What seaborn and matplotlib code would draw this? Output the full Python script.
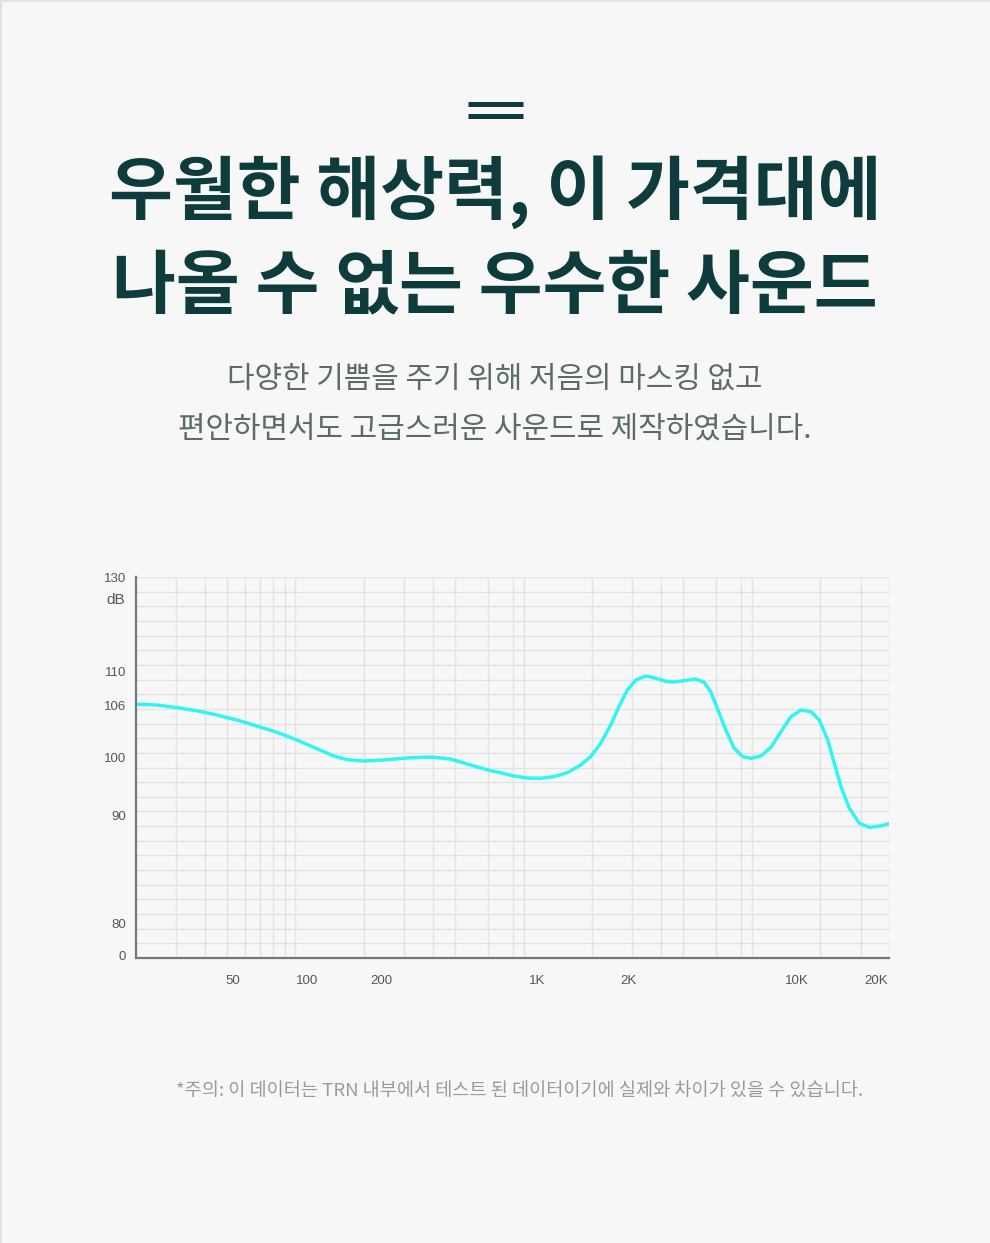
import numpy as np
import pandas as pd
import matplotlib
matplotlib.use("Agg")
import matplotlib.pyplot as plt
import seaborn as sns

# ---------------- data ----------------
freq_hz = [20, 24.3, 29.4, 35.5, 42.9, 51.8, 62.4, 75.3, 90.8, 109.5, 128, 145,
           169.5, 204.8, 260.8, 331.7, 407.7, 501, 615.9, 682.6, 783, 899,
           1023, 1132, 1254, 1387.6, 1497, 1616, 1744, 1857, 1980, 2139, 2354,
           2591, 2851, 3087, 3398, 3800, 4115, 4387, 4751, 5066, 5486, 5946,
           6437, 7085, 7796, 8581, 9444, 10357, 11306, 12162, 13091, 13874,
           14714, 15823, 17277, 18861, 20893, 22400]
level_db = [106.1, 106.0, 105.7, 105.35, 104.87, 104.3, 103.62, 102.91, 102.04,
            101.05, 100.23, 99.71, 99.48, 99.66, 100.0, 100.11, 99.83, 98.79,
            97.81, 97.47, 96.9, 96.55, 96.5, 96.78, 97.47, 98.79, 100.15, 101.66,
            103.74, 105.81, 107.82, 109.03, 109.52, 109.24, 108.87, 108.79,
            108.95, 109.15, 108.75, 107.58, 105.09, 103.17, 101.1, 100.15, 99.95,
            100.23, 101.21, 102.98, 104.68, 105.43, 105.24, 104.3, 102.04, 99.09,
            95.05, 91.33, 89.32, 88.94, 89.07, 89.29]

x_tick_values = [50, 100, 200, 1000, 2000, 10000, 20000]
x_tick_labels = ["50", "100", "200", "1K", "2K", "10K", "20K"]
y_tick_values = [0, 80, 90, 100, 106, 110, 130]
y_tick_labels = ["0", "80", "90", "100", "106", "110", "130"]

grid_freqs = [30, 40, 50, 60, 70, 80, 90, 100, 200, 300, 400, 500, 700, 900,
              1000, 2000, 3000, 4000, 5000, 7000, 9000, 10000, 20000, 30000, 40000]
grid_rows = list(range(0, 27))

title_lines = ["우월한 해상력, 이 가격대에", "나올 수 없는 우수한 사운드"]
subtitle_lines = ["다양한 기쁨을 주기 위해 저음의 마스킹 없고",
                  "편안하면서도 고급스러운 사운드로 제작하였습니다."]
footnote = "*주의: 이 데이터는 TRN 내부에서 테스트 된 데이터이기에 실제와 차이가 있을 수 있습니다."

# ---------------- scale definitions (non-uniform axes of the original) ----------------
x_anchor_f = np.log10([5, 20, 50, 100, 200, 1000, 2000, 10000, 20000, 80000])
x_anchor_p = np.array([136 - 148, 136, 233, 307, 381, 537, 628, 796, 875, 875 + 158], float)

def x_fwd(v):
    v = np.asarray(v, float)
    return np.interp(np.log10(np.clip(v, 1e-6, None)), x_anchor_f, x_anchor_p)

def x_inv(p):
    return 10 ** np.interp(np.asarray(p, float), x_anchor_p, x_anchor_f)

y_anchor_d = np.array([-50, -2, 0, 80, 90, 100, 106, 110, 130, 180], float)
y_anchor_p = np.array([-48, 0, 2, 35, 142, 200, 253, 286, 381, 431], float)

def y_fwd(v):
    return np.interp(np.asarray(v, float), y_anchor_d, y_anchor_p)

def y_inv(p):
    return np.interp(np.asarray(p, float), y_anchor_p, y_anchor_d)

# ---------------- figure ----------------
sns.set_theme(style="white")
plt.rcParams['font.family'] = ['Noto Sans CJK KR', 'DejaVu Sans']

W, H = 990, 1243
fig = plt.figure(figsize=(W / 100, H / 100), dpi=100)
fig.patch.set_facecolor("#f7f7f7")

# thin border at top / left
fig.add_artist(plt.Line2D([0, 1], [1 - 1 / H, 1 - 1 / H], color="#e2e2e2", lw=1.5))
fig.add_artist(plt.Line2D([0.6 / W, 0.6 / W], [0, 1], color="#e2e2e2", lw=1.5))

# decoration (two bars)
dark = "#0e3b3b"
for yy in (103.5, 116):
    fig.add_artist(plt.Line2D([468 / W, 523 / W], [1 - yy / H, 1 - yy / H],
                              color=dark, lw=3.6, solid_capstyle="butt"))

# title
for i, t in enumerate(title_lines):
    fig.text(0.5, 1 - (192 + i * 95) / H, t, ha="center", va="center",
             fontsize=50, fontweight="bold", color=dark)

# subtitle
for i, t in enumerate(subtitle_lines):
    fig.text(0.5, 1 - (379 + i * 50) / H, t, ha="center", va="center",
             fontsize=21.5, color="#5b6b6b")

# footnote
fig.text(520 / W, 1 - 1091 / H, footnote, ha="center", va="center",
         fontsize=13.4, color="#9a9a9a")

# chart area
left, right, top, bottom = 136, 889, 577, 958
rect = [left / W, 1 - bottom / H, (right - left) / W, (bottom - top) / H]

# background grid axes
gax = fig.add_axes(rect)
gax.set_facecolor("#f7f7f7")
gax.set_xscale("log")
gax.set_xlim(20, 40000)
gax.set_ylim(0, 26)
gax.set_xticks(grid_freqs)
gax.set_xticks([], minor=True)
gax.set_yticks(grid_rows)
gax.tick_params(which="both", length=0, labelbottom=False, labelleft=False)
gax.grid(True, color="#e3e3e3", lw=1.0)
for s in gax.spines.values():
    s.set_visible(False)

# data axes
ax = fig.add_axes(rect)
ax.patch.set_alpha(0)
ax.set_xscale("function", functions=(x_fwd, x_inv))
ax.set_yscale("function", functions=(y_fwd, y_inv))

df = pd.DataFrame({"freq": freq_hz, "db": level_db})
line = sns.lineplot(data=df, x="freq", y="db", ax=ax, color="#30f5f2",
                    linewidth=2.5, sort=False)
for ln in ax.lines:
    ln.set_solid_joinstyle("round")
    ln.set_solid_capstyle("round")

ax.set_xlim(20, 22400)
ax.set_ylim(-2, 130)
ax.set_xticks(x_tick_values)
ax.set_xticklabels(x_tick_labels)
ax.set_xticks([], minor=True)
ax.set_yticks(y_tick_values)
ax.set_yticklabels(y_tick_labels)
ax.set_yticks([], minor=True)
ax.set_xlabel("")
ax.set_ylabel("")
ax.grid(False)
ax.tick_params(axis="both", length=0, labelsize=9.5, labelcolor="#555555",
               labelfontfamily="Liberation Sans")
ax.tick_params(axis="x", pad=12)
ax.tick_params(axis="y", pad=7)
for s in ("top", "right"):
    ax.spines[s].set_visible(False)
for s in ("left", "bottom"):
    ax.spines[s].set_color("#777777")
    ax.spines[s].set_linewidth(1.6)

fig.text(116 / W, 1 - 600 / H, "dB", ha="center", va="center",
         fontsize=11, color="#555555", family="Liberation Sans")

fig.savefig("out.png", dpi=100, facecolor=fig.get_facecolor())
